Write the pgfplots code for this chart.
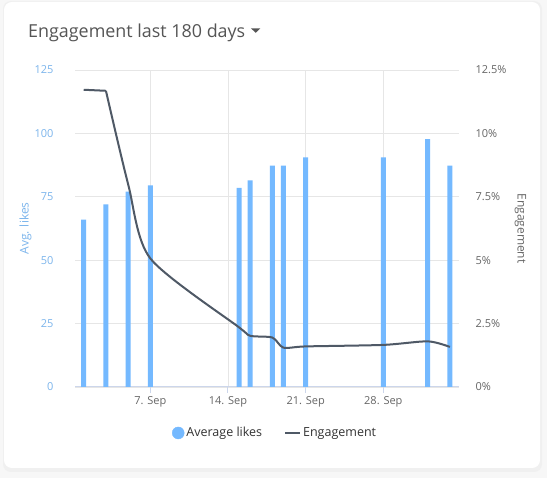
\documentclass[border=0pt]{standalone}
\usepackage{pgfplots}
\pgfplotsset{compat=1.18}
\usepackage{fontspec}
\setmainfont{Open Sans}
\definecolor{likes}{HTML}{74B9FF}
\definecolor{likestxt}{HTML}{7CB5EC}
\definecolor{linec}{HTML}{4F5966}
\definecolor{gridc}{HTML}{E6E6E6}
\definecolor{axisc}{HTML}{CCD6EB}
\definecolor{txt}{HTML}{666666}
\definecolor{ttl}{HTML}{555555}
\definecolor{bg}{HTML}{F7F7F7}
\begin{document}
\begin{tikzpicture}[x=1bp,y=1bp]
\fill[bg] (0,0) rectangle (547,478);
\fill[black!6, rounded corners=8] (3,6) rectangle (542,477);
\fill[white, rounded corners=8] (4,10) rectangle (540,476);
\node[anchor=base west, text=ttl, font=\fontsize{17.9bp}{20bp}\selectfont, inner sep=0] (T) at (28,440.7) {Engagement last 180 days};
\fill[ttl] ([xshift=5.5bp,yshift=0bp]T.east |- 0,449.7) -- ++(9.5,0) -- ++(-4.75,-4.5) -- cycle;
\begin{axis}[
  at={(75bp,91bp)}, anchor=south west, scale only axis,
  width=384bp, height=317bp,
  xmin=0.213, xmax=34.82, ymin=0, ymax=125,
  ytick={0,25,...,125},
  xtick={7,14,21,28},
  xticklabels={7. Sep,14. Sep,21. Sep,28. Sep},
  axis x line*=bottom, axis y line*=left,
  x axis line style={color=axisc, line width=1bp, -},
  y axis line style={draw=none},
  xtick style={color=axisc, line width=1bp},
  ytick style={draw=none},
  tick align=outside, major tick length=6bp,
  grid=major, major grid style={color=gridc, line width=0.8bp},
  /pgf/number format/assume math mode=true,
  yticklabel style={text=likestxt, font=\fontsize{11bp}{13bp}\selectfont, xshift=-12bp},
  xticklabel style={text=txt, font=\fontsize{11bp}{13bp}\selectfont, yshift=0bp},
  ylabel={Avg. likes},
  ylabel style={at={(axis description cs:-0.129,0.5)}, anchor=center, text=likestxt, font=\fontsize{12bp}{14bp}\selectfont},
  clip=false,
]
\addplot[ybar, bar width=5bp, fill=likes, draw=none] coordinates {
(1,66) (3,72) (5,77) (7,79.5) (15,78.5) (16,81.5) (18,87.3) (19,87.3) (21,90.5) (28,90.5) (32,97.7) (34,87.3)
};
\end{axis}
\begin{axis}[
  at={(75bp,91bp)}, anchor=south west, scale only axis,
  width=384bp, height=317bp,
  xmin=0.213, xmax=34.82, ymin=0, ymax=12.5,
  ytick={0,2.5,5,7.5,10,12.5},
  yticklabels={0\%,2.5\%,5\%,7.5\%,10\%,12.5\%},
  axis y line*=right, axis x line=none,
  y axis line style={draw=none},
  ytick style={draw=none},
  /pgf/number format/assume math mode=true,
  yticklabel style={text=txt, font=\fontsize{11bp}{13bp}\selectfont, anchor=west, xshift=13bp},
  ylabel={Engagement},
  ylabel style={at={(axis description cs:1.160,0.5)}, anchor=center, rotate=180, text=txt, font=\fontsize{12bp}{14bp}\selectfont},
  legend style={at={(axis description cs:0.521,-0.145)}, anchor=center, draw=none, fill=none,
    legend columns=-1, font=\fontsize{12.5bp}{14bp}\selectfont, text=black!80,
    /tikz/every even column/.append style={column sep=20bp}},
  clip=false,
]
\addplot[sharp plot, color=linec, line width=2bp, line join=round, forget plot] coordinates {
(1,11.72) (3,11.68)
};
\addlegendimage{legend image code/.code={\fill[likes] (-2bp,0bp) circle (6bp);}}
\addlegendentry{Average likes}
\addplot[smooth, tension=0.45, color=linec, line width=2bp, legend image code/.code={\draw[linec, line width=2bp] (-8bp,0bp) -- (7bp,0bp);}] coordinates {
(3,11.68) (5,8.0) (7,5.07) (15,2.35) (16,2.02) (18,1.95) (19,1.55) (21,1.6) (28,1.66) (32,1.8) (34,1.58)
};
\addlegendentry{Engagement}
\end{axis}
\end{tikzpicture}
\end{document}
